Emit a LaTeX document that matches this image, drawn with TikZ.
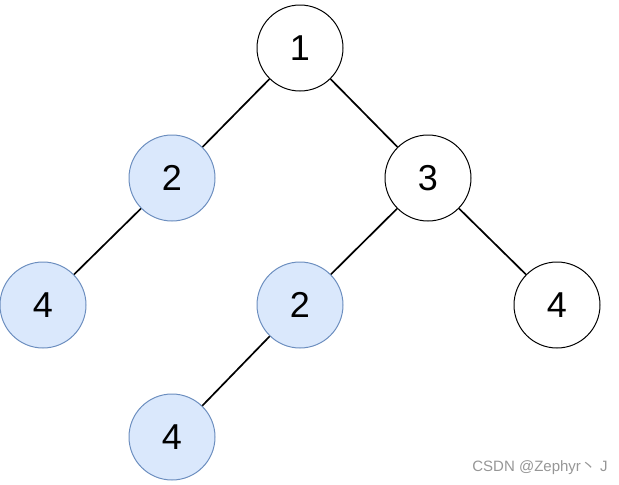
\documentclass[tikz,border=0pt]{standalone}
\usepackage{fontspec}
\setmainfont{Liberation Sans}
\newfontfamily\cjk{Noto Sans CJK SC}
\begin{document}
\begin{tikzpicture}[x=1pt,y=-1pt,
  tnode/.style={circle,draw=black,line width=1pt,minimum size=86pt,inner sep=0pt,fill=white,font=\fontsize{36}{40}\selectfont},
  bnode/.style={tnode,draw={rgb,255:red,108;green,142;blue,191},fill={rgb,255:red,218;green,232;blue,252}},
  edge/.style={line width=1.7pt,black}]
\useasboundingbox (0,0) rectangle (619,485);
\node[tnode] (n1) at (300,48) {1};
\node[bnode] (n2) at (172,178) {2};
\node[tnode] (n3) at (428,178) {3};
\node[bnode] (n4a) at (43,305) {4};
\node[bnode] (n2b) at (300,305) {2};
\node[tnode] (n4c) at (557,305) {4};
\node[bnode] (n4b) at (172,437) {4};
\draw[edge] (n1) -- (n2);
\draw[edge] (n1) -- (n3);
\draw[edge] (n2) -- (n4a);
\draw[edge] (n3) -- (n2b);
\draw[edge] (n3) -- (n4c);
\draw[edge] (n2b) -- (n4b);
\node[anchor=center,text={rgb,255:red,150;green,150;blue,150},font=\fontsize{15}{17}\selectfont,inner sep=0pt] (wm) at (540,468) {CSDN @Zephyr{\cjk 丶} J};
\end{tikzpicture}
\end{document}
